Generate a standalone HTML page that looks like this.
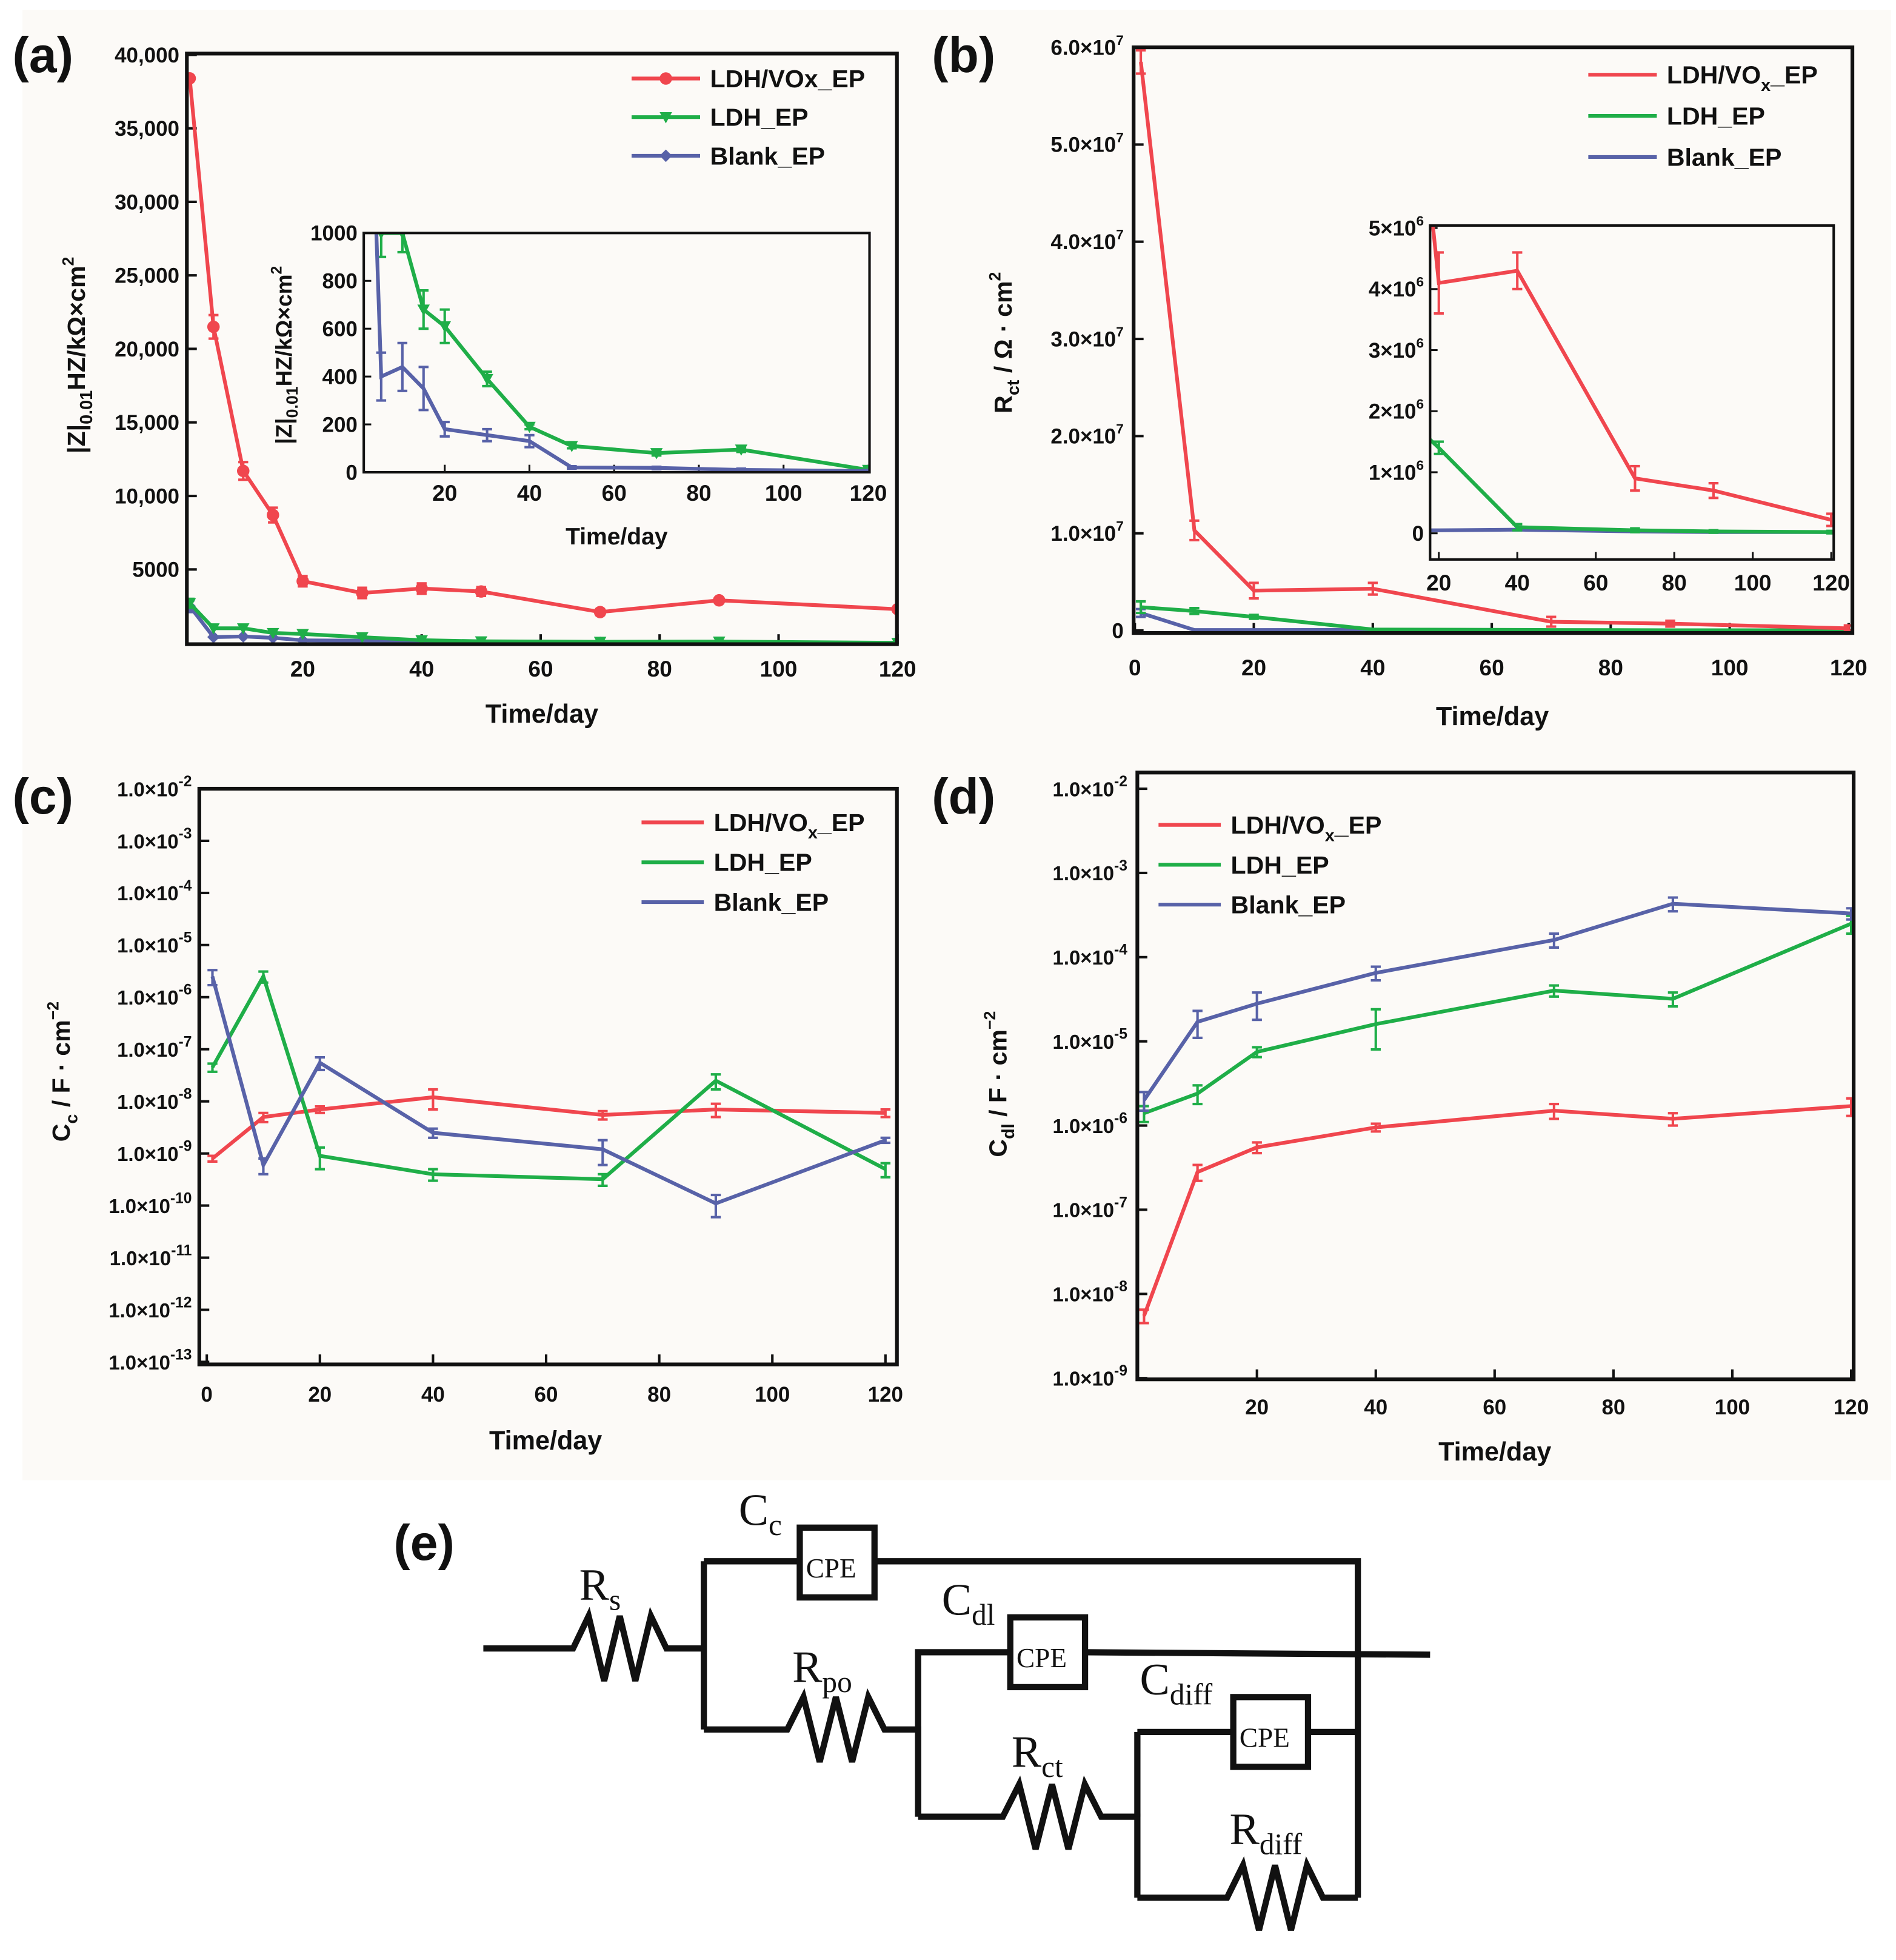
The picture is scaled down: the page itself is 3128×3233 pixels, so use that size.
<!DOCTYPE html>
<html><head><meta charset="utf-8"><style>
html,body{margin:0;padding:0;background:#fff}
svg{display:block;font-family:"Liberation Sans",Arial,sans-serif}
</style></head><body>
<svg id="fig" width="3128" height="3233" viewBox="0 0 1522 1573" preserveAspectRatio="none" xmlns="http://www.w3.org/2000/svg">
<rect x="0" y="0" width="1522" height="1573" fill="#ffffff"/>
<rect x="18" y="8" width="1500" height="1180" fill="#fcfaf7"/>
<g id="root"></g>
</svg>
<script>
// ---------- DATA ----------
const daysA = [1,5,10,15,20,30,40,50,70,90,120];
const redA = [38400,21500,11700,8700,4200,3400,3700,3500,2100,2900,2300];
const greenA = [2700,1000,1000,680,610,390,190,110,80,95,10];
const blueA = [2500,400,440,350,180,155,130,20,18,10,5];
const errA = [0,800,600,500,350,350,350,300,200,150,100];
const yTicksA = [5000,10000,15000,20000,25000,30000,35000,40000];
const yTickLabelsA = ["5000","10,000","15,000","20,000","25,000","30,000","35,000","40,000"];
const xTicksMain = [20,40,60,80,100,120];
const insetYTicksA = [0,200,400,600,800,1000];
const insetErrGreen = [0,100,80,80,70,30,10,10,10,10,5];
const insetErrBlue = [0,100,100,90,30,25,25,5,5,5,5];

const daysB = [1,10,20,40,70,90,120];
const redB = [5.85e7,1.03e7,4.1e6,4.3e6,9e5,7e5,2.2e5];
const greenB = [2.4e6,2.0e6,1.4e6,1e5,5e4,3e4,2e4];
const blueB = [1.8e6,5e4,5e4,6e4,3e4,2e4,2e4];
const errRedB = [6e5,5e5,4e5,3e5,2.5e5,1.5e5,1.5e5];
const yTicksB = [0,1e7,2e7,3e7,4e7,5e7,6e7];
const yTickLabelsB = ["0","1.0×10<tspan font-size='11' dy='-8'>7</tspan>","2.0×10<tspan font-size='11' dy='-8'>7</tspan>","3.0×10<tspan font-size='11' dy='-8'>7</tspan>","4.0×10<tspan font-size='11' dy='-8'>7</tspan>","5.0×10<tspan font-size='11' dy='-8'>7</tspan>","6.0×10<tspan font-size='11' dy='-8'>7</tspan>"];
const insetYTicksB = [0,1e6,2e6,3e6,4e6,5e6];
const insetYLabelsB = ["0","1×10<tspan font-size='11' dy='-8'>6</tspan>","2×10<tspan font-size='11' dy='-8'>6</tspan>","3×10<tspan font-size='11' dy='-8'>6</tspan>","4×10<tspan font-size='11' dy='-8'>6</tspan>","5×10<tspan font-size='11' dy='-8'>6</tspan>"];
const insetErrGreenB = [0,3e5,1e5,5e4,3e4,2e4,2e4];

const daysC = [1,10,20,40,70,90,120];
const redC = [8e-10,5e-9,7e-9,1.2e-8,5.5e-9,7e-9,6e-9];
const greenC = [4.5e-8,2.5e-6,9e-10,4e-10,3.2e-10,2.5e-8,5e-10];
const blueC = [2.5e-6,6e-10,5.5e-8,2.5e-9,1.2e-9,1.1e-10,1.8e-9];
const expTicksC = [-2,-3,-4,-5,-6,-7,-8,-9,-10,-11,-12,-13];
const xTicksC = [0,20,40,60,80,100,120];

const daysD = [1,10,20,40,70,90,120];
const redD = [5.5e-9,2.8e-7,5.5e-7,9.5e-7,1.5e-6,1.2e-6,1.7e-6];
const greenD = [1.4e-6,2.4e-6,7.5e-6,1.6e-5,4e-5,3.2e-5,2.5e-4];
const blueD = [2e-6,1.7e-5,2.8e-5,6.5e-5,1.6e-4,4.3e-4,3.3e-4];
const expTicksD = [-2,-3,-4,-5,-6,-7,-8,-9];

const RED="#f0464e", GREEN="#1fae48", BLUE="#5862a8";
const NS="http://www.w3.org/2000/svg";
const root=document.getElementById('root');
function mk(tag,attrs,parent){const e=document.createElementNS(NS,tag);for(const k in attrs)e.setAttribute(k,attrs[k]);(parent||root).appendChild(e);return e;}
function txt(x,y,s,size,anchor,parent,extra){const t=mk('text',Object.assign({x:x,y:y,'font-size':size,'font-weight':'bold','text-anchor':anchor||'middle',fill:'#111'},extra||{}),parent);t.innerHTML=s;return t;}
function lin(x0,x1,d0,d1){return v=>x0+(v-d0)*(x1-x0)/(d1-d0);}
function logS(y0,y1,e0,e1){return v=>y0+(Math.log10(v)-e0)*(y1-y0)/(e1-e0);}

function series(g,days,vals,sx,sy,color,marker,errs,name,clipId){
  const sg=mk('g',clipId?{'clip-path':'url(#'+clipId+')'}:{},g);
  
  
  const pts=days.map((d,i)=>sx(d).toFixed(1)+','+sy(vals[i]).toFixed(1)).join(' ');
  const pl=mk('polyline',{points:pts,fill:'none',stroke:color,'stroke-width':3},sg);
  
  
  days.forEach((d,i)=>{
    const x=sx(d),y=sy(vals[i]);
    if(errs){const e=errs[i];if(e){const ya=sy(vals[i]+e),yb=sy(Math.max(vals[i]-e,1e-30));
      mk('path',{d:`M${x},${ya}V${yb}M${x-4},${ya}H${x+4}M${x-4},${yb}H${x+4}`,stroke:color,'stroke-width':2,fill:'none'},sg);}}
    let m;
    if(marker==='circle')m=mk('circle',{cx:x,cy:y,r:5,fill:color},sg);
    else if(marker==='tri')m=mk('path',{d:`M${x-5},${y-4}H${x+5}L${x},${y+5}Z`,fill:color},sg);
    else if(marker==='diam')m=mk('path',{d:`M${x},${y-5}L${x+5},${y}L${x},${y+5}L${x-5},${y}Z`,fill:color},sg);
    if(m){
    }
  });
}
function frame(g,x0,y0,x1,y1,name,w){const r=mk('rect',{x:x0,y:y0,width:x1-x0,height:y1-y0,fill:'none',stroke:'#111','stroke-width':w||3},g);}
function clip(id,x0,y0,x1,y1){const c=mk('clipPath',{id:id});mk('rect',{x:x0,y:y0,width:x1-x0,height:y1-y0},c);}
function legend(g,x,y,dy,labels,colors,markers,lineLen){
  labels.forEach((l,i)=>{const yy=y+i*dy;const lg=mk('g',{},g);
    
    
    mk('line',{x1:x,x2:x+lineLen,y1:yy,y2:yy,stroke:colors[i],'stroke-width':3},lg);
    const cx=x+lineLen/2;
    if(markers){if(markers[i]==='circle')mk('circle',{cx:cx,cy:yy,r:5,fill:colors[i]},lg);
      else if(markers[i]==='tri')mk('path',{d:`M${cx-5},${yy-4}H${cx+5}L${cx},${yy+5}Z`,fill:colors[i]},lg);
      else mk('path',{d:`M${cx},${yy-5}L${cx+5},${yy}L${cx},${yy+5}L${cx-5},${yy}Z`,fill:colors[i]},lg);}
    txt(x+lineLen+8,yy+7,l,20,'start',lg);
  });
}
function panelLabel(x,y,s){const t=txt(x,y,s,40,'start');}

// ---------- PANEL A ----------
(function(){
  const g=mk('g',{});
  const X0=150,X1=720,Y0=43,Y1=517;
  const sx=lin(147.5,243,0,20), sy=lin(516,457,0,5000);
  clip('ca',X0,Y0,X1,Y1);
  yTicksA.forEach((v,i)=>{const y=sy(v);mk('line',{x1:X0,x2:X0+8,y1:y,y2:y,stroke:'#111','stroke-width':2},g);txt(X0-6,y+6,yTickLabelsA[i],17,'end',g);});
  xTicksMain.forEach(v=>{const x=sx(v);mk('line',{x1:x,x2:x,y1:Y1,y2:Y1-8,stroke:'#111','stroke-width':2},g);txt(x,Y1+26,v,18,'middle',g);});
  series(g,daysA,blueA,sx,sy,BLUE,'diam',[400,0,0,0,0,0,0,0,0,0,0],'blank-ep','ca');
  series(g,daysA,greenA,sx,sy,GREEN,'tri',[300,0,0,0,0,0,0,0,0,0,0],'ldh-ep','ca');
  series(g,daysA,redA,sx,sy,RED,'circle',errA,'ldh-vox-ep','ca');
  frame(g,X0,Y0,X1,Y1,'plot-frame-a');
  txt(435,580,'Time/day',21,'middle',g);
  txt(0,0,'|Z|<tspan font-size="14" dy="6">0.01</tspan><tspan dy="-6">HZ/kΩ×cm</tspan><tspan font-size="13" dy="-9">2</tspan>',20,'middle',g,{transform:'translate(68,285) rotate(-90)'});
  legend(g,507,63,31,['LDH/VOx_EP','LDH_EP','Blank_EP'],[RED,GREEN,BLUE],['circle','tri','diam'],55);
  const IX0=292,IX1=698,IY0=187,IY1=379;
  const ix=lin(289,357,0,20), iy=lin(379,187,0,1000);
  clip('cai',IX0,IY0,IX1,IY1);
  mk('rect',{x:IX0,y:IY0,width:IX1-IX0,height:IY1-IY0,fill:'#fcfaf7'},g);
  insetYTicksA.forEach(v=>{const y=iy(v);mk('line',{x1:IX0,x2:IX0+6,y1:y,y2:y,stroke:'#111','stroke-width':1.5},g);txt(IX0-5,y+6,v,17,'end',g);});
  xTicksMain.forEach(v=>{const x=ix(v);mk('line',{x1:x,x2:x,y1:IY1,y2:IY1-6,stroke:'#111','stroke-width':1.5},g);txt(x,IY1+23,v,18,'middle',g);});
  series(g,daysA,greenA,ix,iy,GREEN,'tri',insetErrGreen,'inset-ldh-ep','cai');
  series(g,daysA,blueA,ix,iy,BLUE,'none',insetErrBlue,'inset-blank-ep','cai');
  frame(g,IX0,IY0,IX1,IY1,'inset-frame-a',2);
  txt(495,437,'Time/day',19,'middle',g);
  txt(0,0,'|Z|<tspan font-size="13" dy="5">0.01</tspan><tspan dy="-5">HZ/kΩ×cm</tspan><tspan font-size="12" dy="-8">2</tspan>',18,'middle',g,{transform:'translate(234,285) rotate(-90)'});
  panelLabel(10,58,'(a)');
})();

// ---------- PANEL B ----------
(function(){
  const g=mk('g',{});
  const X0=910,X1=1487,Y0=38,Y1=508;
  const sx=lin(911,1006.5,0,20), sy=lin(506,428,0,1e7);
  clip('cb',X0,Y0,X1,Y1);
  yTicksB.forEach((v,i)=>{const y=sy(v);mk('line',{x1:X0,x2:X0+8,y1:y,y2:y,stroke:'#111','stroke-width':2},g);txt(X0-8,y+6,yTickLabelsB[i],17,'end',g);});
  [0,20,40,60,80,100,120].forEach(v=>{const x=sx(v);mk('line',{x1:x,x2:x,y1:Y1,y2:Y1-8,stroke:'#111','stroke-width':2},g);txt(x,Y1+34,v,18,'middle',g);});
  series(g,daysB,blueB,sx,sy,BLUE,'none',[4e5,0,0,0,0,0,0],'blank-ep','cb');
  series(g,daysB,greenB,sx,sy,GREEN,'none',[6e5,3e5,2e5,0,0,0,0],'ldh-ep','cb');
  series(g,daysB,redB,sx,sy,RED,'none',errRedB.map((e,i)=>i===0?1.2e6:e*2),'ldh-vox-ep','cb');
  frame(g,X0,Y0,X1,Y1,'plot-frame-b');
  txt(1198,582,'Time/day',21,'middle',g);
  txt(0,0,'R<tspan font-size="14" dy="6">ct</tspan><tspan dy="-6"> / Ω · cm</tspan><tspan font-size="13" dy="-9">2</tspan>',20,'middle',g,{transform:'translate(812,275) rotate(-90)'});
  legend(g,1275,60,33,['LDH/VO<tspan font-size="14" dy="6">x</tspan><tspan dy="-6">_EP</tspan>','LDH_EP','Blank_EP'],[RED,GREEN,BLUE],null,55);
  const IX0=1148,IX1=1472,IY0=181,IY1=449;
  const ix=lin(1092,1155,0,20), iy=lin(428,379,0,1e6);
  clip('cbi',IX0,IY0,IX1,IY1);
  mk('rect',{x:IX0,y:IY0,width:IX1-IX0,height:IY1-IY0,fill:'#fcfaf7'},g);
  insetYTicksB.forEach((v,i)=>{const y=iy(v);mk('line',{x1:IX0,x2:IX0+6,y1:y,y2:y,stroke:'#111','stroke-width':1.5},g);txt(IX0-5,y+6,insetYLabelsB[i],17,'end',g);});
  xTicksMain.forEach(v=>{const x=ix(v);mk('line',{x1:x,x2:x,y1:IY1,y2:IY1-6,stroke:'#111','stroke-width':1.5},g);txt(x,IY1+25,v,18,'middle',g);});
  series(g,daysB,blueB,ix,iy,BLUE,'none',null,'inset-blank-ep','cbi');
  series(g,daysB,greenB,ix,iy,GREEN,'none',insetErrGreenB,'inset-ldh-ep','cbi');
  series(g,daysB,redB,ix,iy,RED,'none',[0,0,5e5,3e5,2e5,1.2e5,1e5],'inset-ldh-vox-ep','cbi');
  frame(g,IX0,IY0,IX1,IY1,'inset-frame-b',2);
  panelLabel(748,58,'(b)');
})();

// ---------- PANEL C ----------
(function(){
  const g=mk('g',{});
  const X0=160,X1=720,Y0=633,Y1=1095;
  const sx=lin(166,256.8,0,20), sy=logS(633,1093,-2,-13);
  clip('cc',X0,Y0,X1,Y1);
  expTicksC.forEach(e=>{const y=sy(Math.pow(10,e));mk('line',{x1:X0,x2:X0+8,y1:y,y2:y,stroke:'#111','stroke-width':2},g);txt(X0-6,y+6,'1.0×10<tspan font-size="12" dy="-8">'+e+'</tspan>',16,'end',g);});
  xTicksC.forEach(v=>{const x=sx(v);mk('line',{x1:x,x2:x,y1:Y1,y2:Y1-8,stroke:'#111','stroke-width':2},g);txt(x,Y1+30,v,17,'middle',g);});
  series(g,daysC,redC,sx,sy,RED,'none',[1e-10,1e-9,1e-9,5e-9,1e-9,2e-9,1e-9],'ldh-vox-ep','cc');
  series(g,daysC,greenC,sx,sy,GREEN,'none',[8e-9,6e-7,4e-10,1e-10,8e-11,8e-9,1.5e-10],'ldh-ep','cc');
  series(g,daysC,blueC,sx,sy,BLUE,'none',[8e-7,2e-10,1.5e-8,5e-10,6e-10,5e-11,2e-10],'blank-ep','cc');
  frame(g,X0,Y0,X1,Y1,'plot-frame-c');
  txt(438,1163,'Time/day',21,'middle',g);
  txt(0,0,'C<tspan font-size="14" dy="6">c</tspan><tspan dy="-6"> / F · cm</tspan><tspan font-size="13" dy="-9">−2</tspan>',20,'middle',g,{transform:'translate(56,860) rotate(-90)'});
  legend(g,515,660,32,['LDH/VO<tspan font-size="14" dy="6">x</tspan><tspan dy="-6">_EP</tspan>','LDH_EP','Blank_EP'],[RED,GREEN,BLUE],null,50);
  panelLabel(10,653,'(c)');
})();

// ---------- PANEL D ----------
(function(){
  const g=mk('g',{});
  const X0=913,X1=1488,Y0=620,Y1=1107;
  const sx=lin(913.6,1009,0,20), sy=logS(633,1106,-2,-9);
  clip('cd',X0,Y0,X1,Y1);
  expTicksD.forEach(e=>{const y=sy(Math.pow(10,e));mk('line',{x1:X0,x2:X0+8,y1:y,y2:y,stroke:'#111','stroke-width':2},g);txt(X0-8,y+6,'1.0×10<tspan font-size="12" dy="-8">'+e+'</tspan>',16,'end',g);});
  xTicksMain.forEach(v=>{const x=sx(v);mk('line',{x1:x,x2:x,y1:Y1,y2:Y1-8,stroke:'#111','stroke-width':2},g);txt(x,Y1+28,v,17,'middle',g);});
  series(g,daysD,redD,sx,sy,RED,'none',[1e-9,6e-8,8e-8,1e-7,3e-7,2e-7,4e-7],'ldh-vox-ep','cd');
  series(g,daysD,greenD,sx,sy,GREEN,'none',[3e-7,6e-7,1e-6,8e-6,6e-6,6e-6,6e-5],'ldh-ep','cd');
  series(g,daysD,blueD,sx,sy,BLUE,'none',[5e-7,6e-6,1e-5,1.2e-5,3e-5,8e-5,5e-5],'blank-ep','cd');
  frame(g,X0,Y0,X1,Y1,'plot-frame-d');
  txt(1200,1172,'Time/day',21,'middle',g);
  txt(0,0,'C<tspan font-size="14" dy="6">dl</tspan><tspan dy="-6"> / F · cm</tspan><tspan font-size="13" dy="-9">−2</tspan>',20,'middle',g,{transform:'translate(808,870) rotate(-90)'});
  legend(g,930,662,32,['LDH/VO<tspan font-size="14" dy="6">x</tspan><tspan dy="-6">_EP</tspan>','LDH_EP','Blank_EP'],[RED,GREEN,BLUE],null,50);
  panelLabel(748,653,'(d)');
})();

// ---------- PANEL E (circuit) ----------
(function(){
  const g=mk('g',{fill:'none',stroke:'#111','stroke-width':5,'stroke-linejoin':'miter'});
  
  
  function zig(x0,x1,y,amp){let d=`M${x0},${y}`;const n=6,w=(x1-x0)/n;for(let i=1;i<n;i++){d+=`L${x0+w*i},${y+(i%2?-amp:amp)}`;}d+=`L${x1},${y}`;return d;}
  mk('path',{d:`M388,1323H460`+zig(460,535,1323,26).replace('M460,1323','')+`H565`},g);
  mk('path',{d:'M565,1253V1388M565,1253H642M702,1253H1090V1523'},g);
  mk('rect',{x:642,y:1226,width:60,height:56},g);
  mk('path',{d:'M565,1388H632'+zig(632,710,1388,26).replace('M632,1388','')+'H737V1458'},g);
  mk('path',{d:'M737,1458V1326H811M871,1326L1148,1328'},g);
  mk('rect',{x:811,y:1298,width:60,height:56},g);
  mk('path',{d:'M737,1458H805'+zig(805,884,1458,26).replace('M805,1458','')+'H913V1523'},g);
  mk('path',{d:'M913,1390H990M1050,1390H1090M913,1390V1458'},g);
  mk('rect',{x:990,y:1362,width:60,height:56},g);
  mk('path',{d:'M913,1523H985'+zig(985,1062,1523,26).replace('M985,1523','')+'H1090'},g);
  const tg=mk('g',{});
  
  
  function lab(x,y,s,sz){const t=mk('text',{x:x,y:y,'font-size':sz||36,'font-family':'"Liberation Serif",serif',fill:'#111'},tg);t.innerHTML=s;}
  lab(647,1266,'CPE',22);lab(816,1338,'CPE',22);lab(995,1402,'CPE',22);
  lab(465,1284,'R<tspan font-size="24" dy="8">s</tspan>');
  lab(593,1224,'C<tspan font-size="24" dy="8">c</tspan>');
  lab(636,1350,'R<tspan font-size="24" dy="8">po</tspan>');
  lab(756,1296,'C<tspan font-size="24" dy="8">dl</tspan>');
  lab(812,1418,'R<tspan font-size="24" dy="8">ct</tspan>');
  lab(915,1360,'C<tspan font-size="24" dy="8">diff</tspan>');
  lab(987,1480,'R<tspan font-size="24" dy="8">diff</tspan>');
  const pl=mk('text',{x:316,y:1252,'font-size':40,'font-weight':'bold',fill:'#111'},tg);pl.textContent='(e)';
  
  
})();
</script>
</body></html>
